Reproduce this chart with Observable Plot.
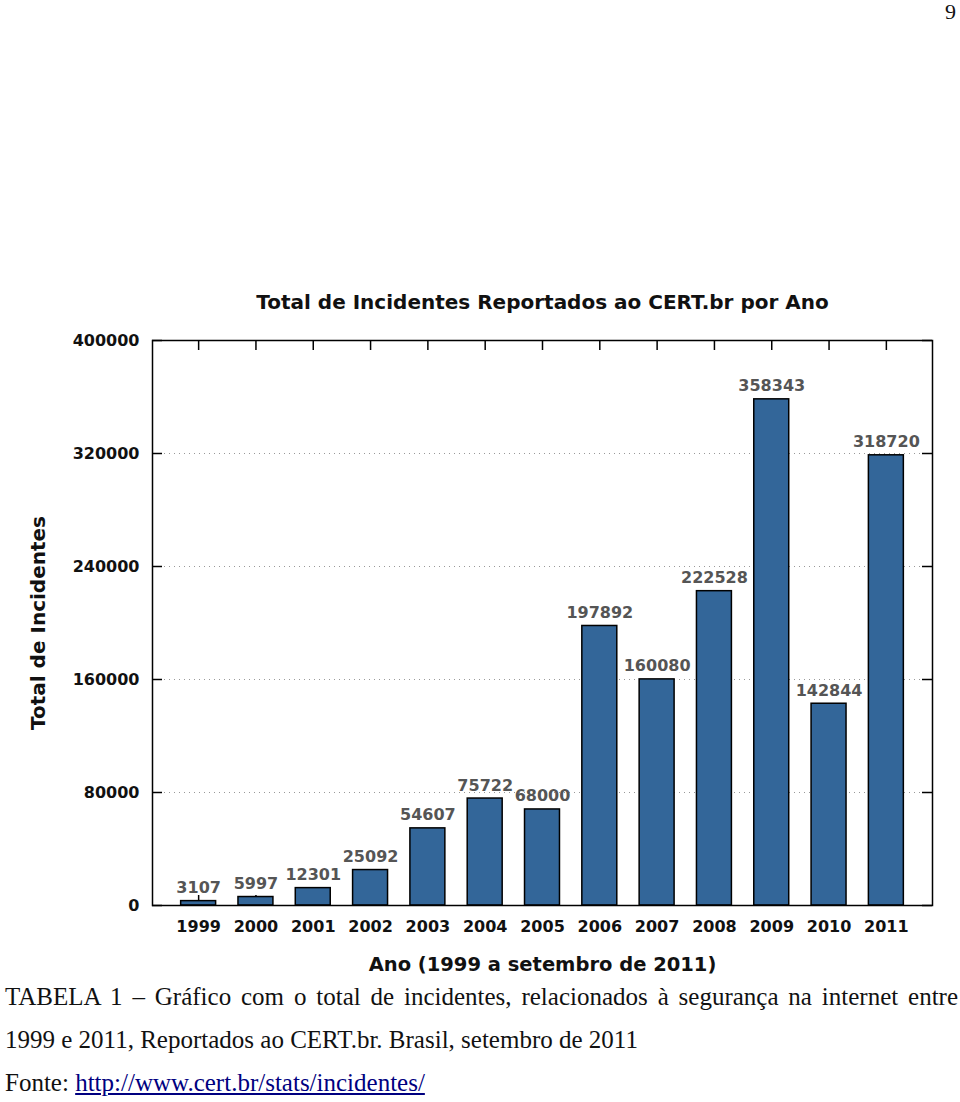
<!DOCTYPE html>
<html>
<head>
<meta charset="utf-8">
<script src="https://cdn.jsdelivr.net/npm/d3@7"></script>
<script src="https://cdn.jsdelivr.net/npm/@observablehq/plot@0.6"></script>
<style>
  html, body { margin: 0; padding: 0; background: #fff; }
  #page { position: relative; width: 960px; }
  #pagenum { position: absolute; right: 4px; top: 0px; font-family: "Liberation Serif", "DejaVu Serif", serif; font-size: 22px; line-height: 24px; color: #111; }
  #chart svg { display: block; }
  #caption { font-family: "Liberation Serif", "DejaVu Serif", serif; font-size: 25px; line-height: 43px; color: #111; padding: 0 2px 0 5px; }
  #caption .just { text-align: justify; text-align-last: justify; white-space: nowrap; }
  #caption a { color: #000080; text-decoration: underline; }
</style>
</head>
<body>
<div id="page">
  <div id="pagenum">9</div>
  <div id="chart"></div>
  <div id="caption">
    <div class="just">TABELA 1 – Gráfico com o total de incidentes, relacionados à segurança na internet entre</div>
    <div>1999 e 2011, Reportados ao CERT.br. Brasil, setembro de 2011</div>
    <div>Fonte: <a href="http://www.cert.br/stats/incidentes/">http://www.cert.br/stats/incidentes/</a></div>
  </div>
</div>
<script>
const years = ["1999", "2000", "2001", "2002", "2003", "2004", "2005", "2006", "2007", "2008", "2009", "2010", "2011"];
const incidents = [3107, 5997, 12301, 25092, 54607, 75722, 68000, 197892, 160080, 222528, 358343, 142844, 318720];
const yTicks = [0, 80000, 160000, 240000, 320000, 400000];
const gridTicks = [80000, 160000, 240000, 320000];
const title = "Total de Incidentes Reportados ao CERT.br por Ano";
const xLabel = "Ano (1999 a setembro de 2011)";
const yLabel = "Total de Incidentes";

const data = years.map((year, i) => ({year, value: incidents[i]}));

const font = "'DejaVu Sans', Verdana, sans-serif";
const H = 975;

const chart = Plot.plot({
  width: 960,
  height: H,
  marginLeft: 152,
  marginRight: 28,
  marginTop: 340,
  marginBottom: H - 905,
  style: {fontFamily: font, fontWeight: "bold", fontSize: "16px", color: "#111", background: "#fff"},
  x: {domain: years, paddingInner: 0.39, paddingOuter: 0.5, round: false, label: null, tickSize: 0, tickPadding: 15},
  y: {domain: [0, 400000], ticks: yTicks, tickFormat: d => String(d), label: null, tickSize: 0, tickPadding: 13},
  marks: [
    Plot.gridY(gridTicks, {stroke: "#999", strokeOpacity: 1, strokeWidth: 1, strokeDasharray: "1,4", insetLeft: 12, insetRight: 12}),
    Plot.tickY(yTicks, {y: d => d, stroke: "#000", strokeWidth: 1.5, insetRight: 770}),
    Plot.tickY(yTicks, {y: d => d, stroke: "#000", strokeWidth: 1.5, insetLeft: 770}),
    Plot.tickX(years, {x: d => d, stroke: "#000", strokeWidth: 1.5, insetBottom: 555}),
    Plot.tickX(years, {x: d => d, stroke: "#000", strokeWidth: 1.5, insetTop: 555}),
    Plot.barY(data, {x: "year", y: "value", fill: "#336699", stroke: "#000", strokeWidth: 1.5}),
    Plot.text(data, {x: "year", y: "value", text: d => String(d.value), lineAnchor: "bottom", dy: -8, fill: "#555", fontWeight: "bold", fontSize: 16}),
    Plot.frame({stroke: "#000", strokeWidth: 1.5}),
    Plot.text([title], {frameAnchor: "top", lineAnchor: "middle", dy: -38, fontSize: 20, fontWeight: "bold", fill: "#111"}),
    Plot.text([xLabel], {frameAnchor: "bottom", lineAnchor: "middle", dy: 59, fontSize: 19.5, fontWeight: "bold", fill: "#111"}),
    Plot.text([yLabel], {frameAnchor: "left", textAnchor: "middle", lineAnchor: "middle", dx: -114, rotate: -90, fontSize: 20, fontWeight: "bold", fill: "#111"})
  ]
});
document.getElementById("chart").appendChild(chart);
</script>
</body>
</html>
